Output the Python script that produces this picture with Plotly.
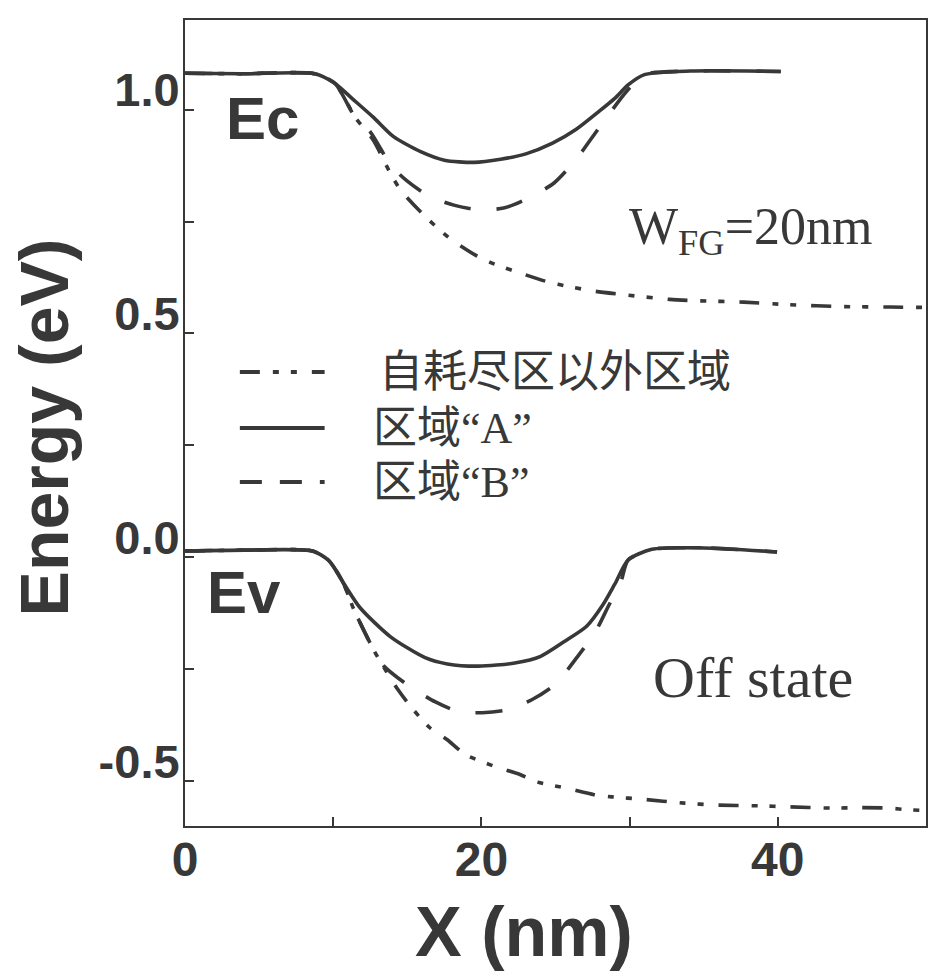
import plotly.graph_objects as go

# Conduction band edge Ec (eV) along X (nm)
ec_a_x = [0, 3.8, 8.75, 10.1, 11.3, 12.7, 14.05, 15.9, 17.5, 19.5, 21.3, 23.0, 24.8, 26.4, 27.9, 29.0, 29.9, 31.0, 34.1, 40.2]
ec_a_y = [1.081, 1.080, 1.080, 1.059, 1.024, 0.983, 0.940, 0.906, 0.887, 0.882, 0.889, 0.901, 0.925, 0.956, 0.995, 1.025, 1.055, 1.078, 1.086, 1.085]

ec_b_x = [0, 3.8, 8.75, 10.1, 11.5, 12.5, 13.9, 15.0, 16.5, 18.2, 19.8, 21.5, 23.1, 24.9, 26.4, 27.65, 28.8, 29.8, 31.0, 34.1, 40.2]
ec_b_y = [1.081, 1.080, 1.080, 1.059, 0.982, 0.950, 0.875, 0.840, 0.806, 0.786, 0.776, 0.780, 0.801, 0.836, 0.889, 0.946, 0.998, 1.041, 1.078, 1.086, 1.085]

ec_o_x = [0, 3.8, 8.75, 10.1, 11.5, 12.7, 13.9, 14.6, 16.0, 17.8, 19.6, 20.8, 22.7, 24.5, 25.85, 27.7, 29.5, 32.7, 34.6, 37.7, 40.8, 44.4, 47.6, 50]
ec_o_y = [1.081, 1.080, 1.080, 1.059, 0.982, 0.932, 0.855, 0.818, 0.768, 0.714, 0.675, 0.656, 0.634, 0.615, 0.605, 0.594, 0.587, 0.576, 0.573, 0.570, 0.564, 0.560, 0.559, 0.558]

# Valence band edge Ev (eV) along X (nm)
ev_a_x = [0, 4, 8.6, 9.7, 10.65, 11.8, 13.85, 16.2, 17.7, 19.8, 22.25, 24.0, 25.6, 27.1, 28.2, 29.0, 29.9, 31.5, 35.0, 39.95]
ev_a_y = [0.014, 0.016, 0.014, -0.007, -0.055, -0.112, -0.177, -0.224, -0.238, -0.243, -0.236, -0.221, -0.188, -0.154, -0.106, -0.060, -0.006, 0.018, 0.021, 0.012]

ev_b_x = [0, 4, 8.6, 9.7, 10.65, 11.4, 12.8, 13.4, 15.1, 16.9, 18.4, 20.05, 21.7, 23.4, 25.0, 26.5, 27.65, 28.6, 29.4, 29.9, 31.5, 35.0, 39.95]
ev_b_y = [0.014, 0.016, 0.014, -0.007, -0.055, -0.117, -0.211, -0.242, -0.287, -0.323, -0.344, -0.347, -0.341, -0.318, -0.283, -0.221, -0.169, -0.107, -0.056, -0.006, 0.018, 0.021, 0.012]

ev_o_x = [0, 4, 8.6, 9.7, 10.65, 11.4, 12.8, 14.4, 15.3, 16.5, 17.7, 18.9, 20.9, 22.6, 23.8, 25.8, 27.6, 28.8, 30.8, 33.7, 35.7, 38.75, 40.6, 43.6, 45.6, 47.5, 48.9, 50]
ev_o_y = [0.014, 0.016, 0.014, -0.007, -0.055, -0.117, -0.211, -0.297, -0.336, -0.380, -0.4075, -0.440, -0.467, -0.485, -0.502, -0.516, -0.530, -0.535, -0.540, -0.549, -0.553, -0.555, -0.557, -0.560, -0.559, -0.560, -0.564, -0.565]

series_names = ["自耗尽区以外区域", "区域“A”", "区域“B”"]
x_tick_vals = [0, 20, 40]
x_tick_text = ["0", "20", "40"]
y_tick_vals = [-0.5, 0.0, 0.5, 1.0]
y_tick_text = ["-0.5", "0.0", "0.5", "1.0"]

INK = "#383838"
DASHDOT = "20px,13px,6px,12px,6px,15px"
DASHED = "27px,26px"
LW = 3.6

fig = go.Figure()

def add_curve(x, y, dash, name):
    fig.add_trace(go.Scatter(
        x=x, y=y, mode="lines", name=name, showlegend=False,
        line=dict(color=INK, width=LW, dash=dash, shape="spline", smoothing=0.7),
        hoverinfo="x+y+name",
    ))

# dash-dot-dot first so the solid curve sits on top where they coincide
add_curve(ec_o_x, ec_o_y, DASHDOT, series_names[0])
add_curve(ev_o_x, ev_o_y, DASHDOT, series_names[0])
add_curve(ec_b_x, ec_b_y, DASHED, series_names[2])
add_curve(ev_b_x, ev_b_y, DASHED, series_names[2])
add_curve(ec_a_x, ec_a_y, "solid", series_names[1])
add_curve(ev_a_x, ev_a_y, "solid", series_names[1])

L, R, T, B = 185, 4, 20, 146
W, H = 932, 972
pw, ph = W - L - R, H - T - B

def px(xp):
    return (xp - L) / pw

def py(yp):
    return (H - B - yp) / ph

# hand-drawn key in the upper-left of the axes
key_rows = [
    (series_names[0], DASHDOT, 372, 378),
    (series_names[1], "solid", 428, 372),
    (series_names[2], "22px,18px", 482, 372),
]
shapes = []
annotations = []
for label, dash, yp, xt in key_rows:
    shapes.append(dict(type="line", xref="paper", yref="paper",
                       x0=px(240), x1=px(325), y0=py(yp), y1=py(yp),
                       line=dict(color=INK, width=4, dash=dash)))
    annotations.append(dict(text=label, xref="paper", yref="paper",
                            x=px(xt), y=py(yp), xanchor="left", yanchor="middle",
                            showarrow=False,
                            font=dict(family="Liberation Serif, Noto Sans CJK SC", size=44, color=INK)))

def note(text, xp, yp, size, family, bold=False, xanchor="center", angle=0):
    annotations.append(dict(
        text=text, xref="paper", yref="paper", x=px(xp), y=py(yp),
        xanchor=xanchor, yanchor="middle", showarrow=False, textangle=angle,
        font=dict(family=family, size=size, color=INK, weight=700 if bold else 400),
    ))

note("Ec", 263, 118, 60, "Liberation Sans", bold=True)
note("Ev", 244, 592, 60, "Liberation Sans", bold=True)
note("W<sub>FG</sub>=20nm", 628, 230, 52, "Liberation Serif", xanchor="left")
note("Off state", 755, 677, 58, "Liberation Serif")
note("Energy (eV)", 44, 427, 68, "Liberation Sans", bold=True, angle=-90)
note("X (nm)", 525, 932, 70, "Liberation Sans", bold=True)

axis_common = dict(
    showline=True, linewidth=2, linecolor=INK, mirror=True,
    showgrid=False, zeroline=False,
    ticks="inside", ticklen=9, tickwidth=2, tickcolor=INK,
)

fig.update_xaxes(
    range=[0, 50], tickvals=x_tick_vals, ticktext=x_tick_text,
    minor=dict(tickvals=[10, 30], ticks="inside", ticklen=9, tickwidth=2, tickcolor=INK),
    tickfont=dict(family="Liberation Sans", size=48, color=INK, weight=700),
    ticklabelstandoff=-10,
    **axis_common,
)
fig.update_yaxes(
    range=[-0.6, 1.2], tickvals=y_tick_vals, ticktext=y_tick_text,
    minor=dict(tickvals=[-0.25, 0.25, 0.75], ticks="inside", ticklen=9, tickwidth=2, tickcolor=INK),
    tickfont=dict(family="Liberation Sans", size=47, color=INK, weight=700),
    ticklabelstandoff=-6, ticklabelshift=-20,
    **axis_common,
)

fig.update_layout(
    width=W, height=H,
    margin=dict(l=L, r=R, t=T, b=B),
    paper_bgcolor="white", plot_bgcolor="white",
    shapes=shapes, annotations=annotations,
    showlegend=False,
)

fig.write_html("out.html")
